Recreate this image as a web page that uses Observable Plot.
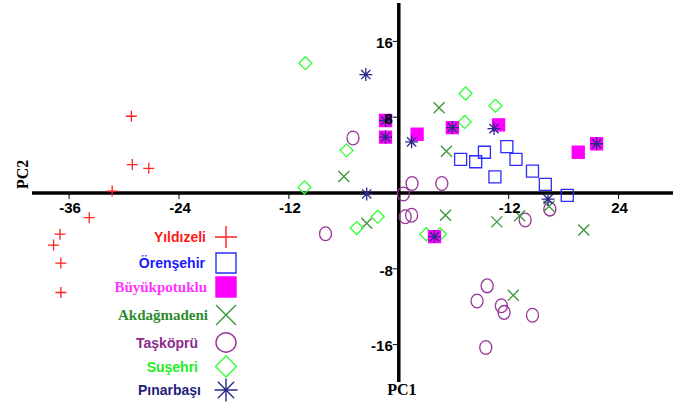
<!DOCTYPE html>
<html><head><meta charset="utf-8">
<script src="https://cdn.jsdelivr.net/npm/d3@7"></script>
<script src="https://cdn.jsdelivr.net/npm/@observablehq/plot@0.6"></script>
<style>
body{margin:0;background:#fff;}
#wrap{position:relative;width:681px;height:408px;}
#legend{position:absolute;left:0;top:0;pointer-events:none;}
</style></head><body><div id="wrap"></div>
<script>
// ---------- data ----------
const groups = ["Yıldızeli","Örenşehir","Büyükpotuklu","Akdağmadeni","Taşköprü","Suşehri","Pınarbaşı"];

const yildizeliPC1 = [-29.2,-29.1,-27.3,-31.3,-33.8,-37.0,-37.7,-36.9,-36.9];
const yildizeliPC2 = [8.1,3.0,2.6,0.2,-2.6,-4.35,-5.5,-7.4,-10.5];

const orensehirPC1 = [6.75,8.4,9.35,11.8,12.8,10.5,14.6,16.0,18.4];
const orensehirPC2 = [3.55,3.3,4.3,4.9,3.55,1.7,2.3,0.9,-0.25];

const buyukpotukluPC1 = [-1.45,-1.45,2.0,5.85,10.9,19.6,21.6,3.9];
const buyukpotukluPC2 = [7.65,5.9,6.2,6.9,7.2,4.3,5.2,-4.6];

const akdagmadeniPC1 = [4.4,5.2,-6.0,-3.5,5.1,10.7,13.2,16.4,20.2,12.5];
const akdagmadeniPC2 = [9.0,4.4,1.75,-3.2,-2.35,-3.05,-2.4,-1.4,-3.9,-10.8];

const taskopruPC1 = [-5.0,0.5,1.45,4.7,0.7,1.4,-8.0,13.8,16.5,9.65,8.55,11.2,11.5,14.6,9.5];
const taskopruPC2 = [5.8,-0.1,1.0,1.0,-2.5,-2.35,-4.3,-2.85,-1.7,-9.8,-11.4,-11.9,-12.6,-12.9,-16.3];

const susehriPC1 = [-10.2,-5.7,-10.3,-4.6,-2.3,7.3,10.55,7.2,3.0,4.5];
const susehriPC2 = [13.7,4.5,0.6,-3.7,-2.5,10.5,9.2,7.5,-4.35,-4.35];

const pinarbasiPC1 = [-3.6,-1.45,-1.45,-3.5,1.4,5.85,10.4,3.9,16.3,21.6];
const pinarbasiPC2 = [12.5,7.65,5.9,-0.1,5.4,6.9,6.8,-4.6,-0.65,5.2];

const xTicks = [-36,-24,-12,12,24];
const xTickLabels = ["-36","-24","-12","-12","24"];
const yTicks = [16,8,-8,-16];
const yTickLabels = ["16","8","-8","-16"];

// ---------- symbols ----------
const R = s => Math.sqrt(s / Math.PI);
const symPlus = {draw(c,s){const r=R(s);c.moveTo(-r,0);c.lineTo(r,0);c.moveTo(0,-r);c.lineTo(0,r);}};
const symSquare = {draw(c,s){const r=R(s);c.rect(-r,-r,2*r,2*r);}};
const symTimes = {draw(c,s){const r=R(s);c.moveTo(-r,-r);c.lineTo(r,r);c.moveTo(-r,r);c.lineTo(r,-r);}};
const ellipse = ratio => ({draw(c,s){const rx=R(s),ry=rx*ratio,k=0.5523;
  c.moveTo(rx,0);
  c.bezierCurveTo(rx,ry*k,rx*k,ry,0,ry);
  c.bezierCurveTo(-rx*k,ry,-rx,ry*k,-rx,0);
  c.bezierCurveTo(-rx,-ry*k,-rx*k,-ry,0,-ry);
  c.bezierCurveTo(rx*k,-ry,rx,-ry*k,rx,0);
  c.closePath();}});
const symOval = ellipse(1.15);
const symCircle = ellipse(0.97);
const symDiamond = {draw(c,s){const r=R(s);c.moveTo(0,-r);c.lineTo(r,0);c.lineTo(0,r);c.lineTo(-r,0);c.closePath();}};
const symAster = {draw(c,s){const r=R(s),d=r*Math.SQRT1_2;
  c.moveTo(-r,0);c.lineTo(r,0);c.moveTo(0,-r);c.lineTo(0,r);
  c.moveTo(-d,-d);c.lineTo(d,d);c.moveTo(-d,d);c.lineTo(d,-d);}};
const symTickDown = {draw(c){c.moveTo(0,0);c.lineTo(0,6);}};
const symTickLeft = {draw(c){c.moveTo(0,0);c.lineTo(-6,0);}};

const rows = (xs, ys) => xs.map((v,i) => ({pc1: v, pc2: ys[i]}));

const series = [
  {name: groups[4], data: rows(taskopruPC1, taskopruPC2), symbol: symOval, legendSymbol: symCircle, stroke: "#993399", fill: "none", r: 6, lr: 10, text: "#8b2a8b", font: "sans"},
  {name: groups[3], data: rows(akdagmadeniPC1, akdagmadeniPC2), symbol: symTimes, legendSymbol: symTimes, stroke: "#3a963a", fill: "none", r: 5.5, lr: 10, text: "#2e8b2e", font: "serif"},
  {name: groups[5], data: rows(susehriPC1, susehriPC2), symbol: symDiamond, legendSymbol: symDiamond, stroke: "#33ff33", fill: "none", r: 6.5, lr: 10.5, text: "#22ee22", font: "sans"},
  {name: groups[1], data: rows(orensehirPC1, orensehirPC2), symbol: symSquare, legendSymbol: symSquare, stroke: "#2b2bff", fill: "none", r: 6, lr: 10, text: "#1a1aff", font: "sans"},
  {name: groups[0], data: rows(yildizeliPC1, yildizeliPC2), symbol: symPlus, legendSymbol: symPlus, stroke: "#ff2020", fill: "none", r: 5.5, lr: 11, text: "#ff1a1a", font: "sans"},
  {name: groups[2], data: rows(buyukpotukluPC1, buyukpotukluPC2), symbol: symSquare, legendSymbol: symSquare, stroke: "#ff00ff", fill: "#ff00ff", r: 6, lr: 10, text: "#ff33ff", font: "serif"},
  {name: groups[6], data: rows(pinarbasiPC1, pinarbasiPC2), symbol: symAster, legendSymbol: symAster, stroke: "#2a2a8a", fill: "none", r: 6.5, lr: 11.5, text: "#1f1f7a", font: "sans"}
];

const SANS = "'Liberation Sans', Arial, sans-serif";
const SERIF = "'Liberation Serif', 'Times New Roman', serif";

const marks = [
  Plot.ruleY([0], {stroke: "#000", strokeWidth: 3.5}),
  Plot.ruleX([0], {stroke: "#000", strokeWidth: 3.5}),
  Plot.dot(xTicks, {x: d => d, y: 0, symbol: symTickDown, stroke: "#000", strokeWidth: 1, r: 1}),
  Plot.dot(yTicks, {x: 0, y: d => d, symbol: symTickLeft, stroke: "#000", strokeWidth: 1, r: 1})
];
for (const s of series) {
  marks.push(Plot.dot(s.data, {x: "pc1", y: "pc2", symbol: s.symbol, r: s.r, stroke: s.stroke, fill: s.fill, strokeWidth: 1.3}));
}
marks.push(
  Plot.text(xTicks, {x: d => d, y: 0, text: (d,i) => xTickLabels[i], dy: 15, dx: 1, fontSize: 15, fontWeight: "bold", fontFamily: SANS, fill: "#000"}),
  Plot.text(yTicks, {x: 0, y: d => d, text: (d,i) => yTickLabels[i], textAnchor: "end", dx: -6, dy: 2, fontSize: 15, fontWeight: "bold", fontFamily: SANS, fill: "#000"}),
  Plot.text(["PC1"], {x: 0, frameAnchor: "bottom", dy: 12, dx: 3, text: d => d, fontSize: 16, fontWeight: "bold", fontFamily: SERIF, fill: "#000"}),
  Plot.text(["PC2"], {frameAnchor: "left", rotate: -90, dx: -10, dy: -4, text: d => d, fontSize: 16, fontWeight: "bold", fontFamily: SERIF, fill: "#000"})
);

const chart = Plot.plot({
  width: 681, height: 408,
  marginTop: 3, marginRight: 8, marginBottom: 26, marginLeft: 32,
  x: {domain: [-40, 30], axis: null},
  y: {domain: [-20, 20], axis: null},
  style: {background: "#fff", overflow: "visible"},
  marks
});
document.getElementById("wrap").appendChild(chart);

// ---------- legend (overlay) ----------
const legendOrder = [groups[0], groups[1], groups[2], groups[3], groups[4], groups[5], groups[6]];
const legendRowY = [237, 263, 287, 315, 342.5, 366.5, 390];
const legendTextEnd = [206, 205, 207, 208, 198, 198, 201];
const legendSymX = 226;

const lsvg = d3.select("#wrap").append("svg").attr("id", "legend")
  .attr("width", 681).attr("height", 408);
legendOrder.forEach((name, i) => {
  const s = series.find(d => d.name === name);
  const y = legendRowY[i];
  lsvg.append("text")
    .attr("x", legendTextEnd[i]).attr("y", y + 5)
    .attr("text-anchor", "end")
    .attr("fill", s.text)
    .attr("font-family", s.font === "serif" ? SERIF : SANS)
    .attr("font-weight", "bold")
    .attr("font-size", s.font === "serif" ? 15 : 14)
    .text(name);
  lsvg.append("path")
    .attr("transform", `translate(${legendSymX},${y})`)
    .attr("d", d3.symbol(s.legendSymbol, Math.PI * s.lr * s.lr)())
    .attr("fill", s.fill)
    .attr("stroke", s.stroke)
    .attr("stroke-width", 1.4);
});
</script></body></html>
